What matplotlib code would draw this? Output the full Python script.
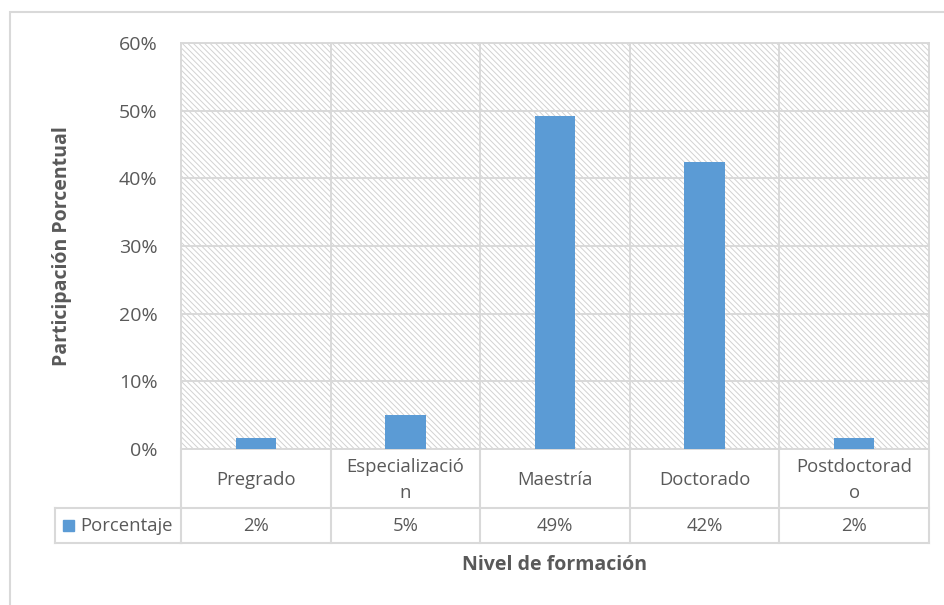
import matplotlib
matplotlib.use("Agg")
import matplotlib.pyplot as plt
from matplotlib.patches import Rectangle
from matplotlib.transforms import blended_transform_factory

plt.rcParams['font.family'] = ['Open Sans', 'DejaVu Sans']
plt.rcParams['hatch.linewidth'] = 0.7

# data
categorias = ["Pregrado", "Especializació\nn", "Maestría", "Doctorado", "Postdoctorad\no"]
porcentaje = [1.69, 5.08, 49.15, 42.37, 1.69]
etiquetas = ["2%", "5%", "49%", "42%", "2%"]
serie = "Porcentaje"
yticks = [0, 10, 20, 30, 40, 50, 60]

W, H = 945, 605
gris = "#d9d9d9"
texto = "#595959"
azul = "#5b9bd5"

fig = plt.figure(figsize=(W / 100, H / 100), dpi=100)
ax = fig.add_axes([181 / W, 1 - 449 / H, (929 - 181) / W, (449 - 43) / H])

# hatched plot area
bg = Rectangle((0, 0), 1, 1, transform=ax.transAxes, facecolor="white",
               edgecolor="#d2d2d2", lw=0, hatch="\\" * 6, zorder=0)
ax.add_patch(bg)

x = list(range(len(categorias)))
ax.bar(x, porcentaje, width=0.27, color=azul, zorder=3)

ax.set_xlim(-0.5, len(categorias) - 0.5)
ax.set_ylim(0, 60)
ax.set_yticks(yticks)
ax.set_yticklabels([f"{v}%" for v in yticks])
ax.tick_params(axis="y", length=0, pad=17, labelsize=14, labelcolor=texto)
ax.set_xticks([])
for v in yticks:
    ax.axhline(v, color=gris, lw=1.4, zorder=1)
for i in range(len(categorias) - 1):
    ax.axvline(i + 0.5, color=gris, lw=1.4, zorder=1)
for s in ax.spines.values():
    s.set_color(gris)
    s.set_linewidth(1.4)

# data table below the axis
tr = blended_transform_factory(ax.transData, fig.transFigure)
fy = lambda p: 1 - p / H
y_top, y_mid, y_bot = fy(449), fy(508), fy(543)
kw = dict(color=gris, lw=1.5, transform=tr, clip_on=False)
for i in range(len(categorias) + 1):
    ax.plot([i - 0.5, i - 0.5], [y_top, y_bot], **kw)
ax.plot([-0.5, len(categorias) - 0.5], [y_mid, y_mid], **kw)
ax.plot([-0.5, len(categorias) - 0.5], [y_bot, y_bot], **kw)
fig.add_artist(plt.Line2D([55 / W, 181 / W], [y_mid, y_mid], color=gris, lw=1.5))
fig.add_artist(plt.Line2D([55 / W, 181 / W], [y_bot, y_bot], color=gris, lw=1.5))
fig.add_artist(plt.Line2D([55 / W, 55 / W], [y_mid, y_bot], color=gris, lw=1.5))

for i, (c, e) in enumerate(zip(categorias, etiquetas)):
    ax.text(i, fy(480), c, transform=tr, ha="center", va="center",
            fontsize=13.3, color=texto, linespacing=1.5)
    ax.text(i, fy(526), e, transform=tr, ha="center", va="center",
            fontsize=13.3, color=texto)

# legend key in table
fig.add_artist(Rectangle((63 / W, fy(531)), 11 / W, 11 / H, color=azul))
fig.text(80 / W, fy(526), serie, ha="left", va="center", fontsize=13.3, color=texto)

# axis titles
fig.text(62 / W, fy(246), "Participación Porcentual", rotation=90, ha="center",
         va="center", fontsize=14, fontweight="bold", color=texto)
fig.text(555 / W, fy(565), "Nivel de formación", ha="center", va="center",
         fontsize=14, fontweight="bold", color=texto)

# chart frame
fig.add_artist(Rectangle((10 / W, fy(700)), 1.2, fy(12) - fy(700), fill=False,
                         edgecolor=gris, lw=1.5))

fig.savefig("out.png", dpi=100)
